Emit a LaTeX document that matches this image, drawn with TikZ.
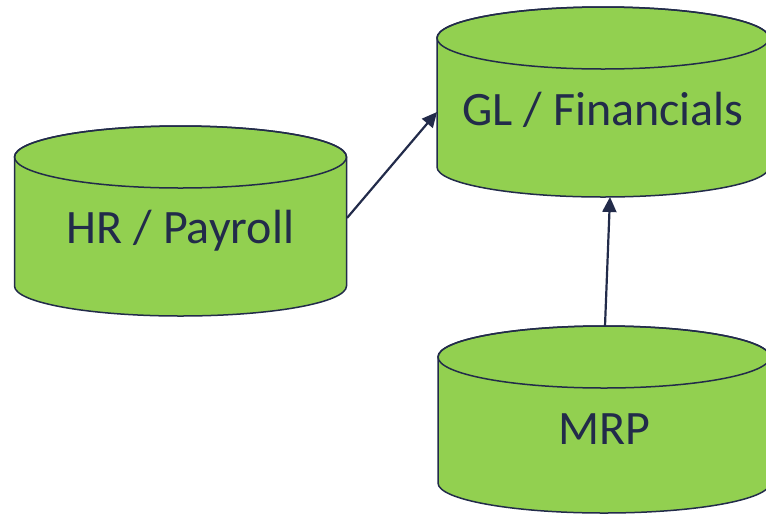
\documentclass[tikz,border=0pt]{standalone}
\usepackage{fontspec}
\setmainfont{Carlito}
\usetikzlibrary{arrows.meta}
\definecolor{cylfill}{HTML}{92D050}
\definecolor{navy}{HTML}{222B4A}
\tikzset{
  cylbody/.style={fill=cylfill, draw=navy, line width=1.5pt, line join=round},
  cyledge/.style={draw=navy, line width=1.5pt},
  cyllabel/.style={text=navy, font=\fontsize{48}{52}\selectfont, anchor=base, inner sep=0pt},
  flow/.style={draw=navy, line width=2.2pt, -{Triangle[length=15pt,width=14pt]}},
}
% name, centre x, top-ellipse centre y, bottom-ellipse centre y, label baseline y, text
\newcommand\dbcylinder[6]{%
  \path[cylbody] ({#2-166},#3) -- ({#2-166},#4)
     arc[start angle=180,end angle=360,x radius=166,y radius=30]
     -- ({#2+166},#3)
     arc[start angle=0,end angle=180,x radius=166,y radius=31] -- cycle;
  \draw[cyledge] (#2,#3) ellipse[x radius=166,y radius=31];
  \node[cyllabel] (#1) at (#2,#5) {#6};
}
\begin{document}
\begin{tikzpicture}[x=1pt,y=1pt]
  \clip (0,0) rectangle (766,-515);
  \dbcylinder{hr}{180.5}{-157}{-286}{-243}{HR / Payroll}
  \dbcylinder{gl}{603}{-38}{-167}{-125}{GL / Financials}
  \dbcylinder{mrp}{604}{-357}{-483}{-444}{MRP}
  \coordinate (hr-out) at (347,-218);
  \coordinate (gl-inL) at (437,-112);
  \coordinate (mrp-out) at (605,-326);
  \coordinate (gl-inB) at (610,-197);
  \draw[flow] (hr-out) -- (gl-inL);
  \draw[flow] (mrp-out) -- (gl-inB);
\end{tikzpicture}
\end{document}
